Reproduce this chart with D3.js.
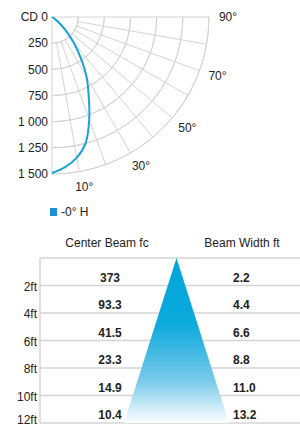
<!DOCTYPE html>
<html lang="en">
<head>
  <meta charset="UTF-8">
  <title>Photometric chart</title>
  <script src="https://d3js.org/d3.v7.min.js"></script>
  <style>
    body {
      margin: 0;
      background: #fff;
      font-family: Arial, "Liberation Sans", sans-serif;
    }
    text {
      fill: #222;
      font-size: 12px;
    }
    .grid {
      fill: none;
      stroke: #d4d4d4;
      stroke-width: 1;
    }
  </style>
</head>
<body>
  <svg width="300" height="427"></svg>

  <script>
    // polar curve (angle in degrees, candela)
    const angles = [0, 5, 10, 15, 20, 25, 30, 35, 40, 45, 50, 55, 60];
    const candela = [1490, 1440, 1365, 1245, 1040, 830, 660, 480, 330, 200, 100, 35, 0];

    const cdTicks = [0, 250, 500, 750, 1000, 1250, 1500];
    const cdLabels = ["CD 0", "250", "500", "750", "1 000", "1 250", "1 500"];
    const angleTicks = [10, 30, 50, 70, 90];
    const series = "-0° H";

    // beam table
    const distances = [2, 4, 6, 8, 10, 12];
    const centerBeam = ["373", "93.3", "41.5", "23.3", "14.9", "10.4"];
    const beamWidth = ["2.2", "4.4", "6.6", "8.8", "11.0", "13.2"];

    const svg = d3.select("svg");

    // ---- polar part ----
    const cx = 52, cy = 17;
    const r = d3.scaleLinear().domain([0, 1500]).range([0, 157]);
    const rad = d => d * Math.PI / 180;
    const px = (a, v) => cx + r(v) * Math.sin(rad(a));
    const py = (a, v) => cy + r(v) * Math.cos(rad(a));

    const polar = svg.append("g");

    // arcs
    cdTicks.slice(1).forEach(v => {
      polar.append("path")
        .attr("class", "grid")
        .attr("d", d3.arc()({
          innerRadius: r(v), outerRadius: r(v),
          startAngle: Math.PI / 2, endAngle: Math.PI
        }))
        .attr("transform", `translate(${cx},${cy})`);
    });

    // spokes
    d3.range(10, 90, 10).forEach(a => {
      polar.append("line")
        .attr("class", "grid")
        .attr("x1", px(a, 250)).attr("y1", py(a, 250))
        .attr("x2", px(a, 1500)).attr("y2", py(a, 1500));
    });
    polar.append("line").attr("class", "grid")
      .attr("x1", cx).attr("y1", cy).attr("x2", px(0, 1500)).attr("y2", py(0, 1500));
    polar.append("line").attr("class", "grid")
      .attr("x1", cx).attr("y1", cy).attr("x2", px(90, 1500)).attr("y2", py(90, 1500));

    // candela labels
    polar.selectAll(".cd")
      .data(cdTicks)
      .enter().append("text")
      .attr("x", cx - 4)
      .attr("y", d => py(0, d))
      .attr("dy", "0.35em")
      .style("text-anchor", "end")
      .text((d, i) => cdLabels[i]);

    // angle labels
    polar.selectAll(".ang")
      .data(angleTicks)
      .enter().append("text")
      .attr("x", d => cx + 174 * Math.sin(rad(d)) + 2)
      .attr("y", d => cy + 172 * Math.cos(rad(d)))
      .attr("dy", "0.35em")
      .style("text-anchor", "middle")
      .text(d => d + "°");

    // curve
    const pts = angles.map((a, i) => [px(a, candela[i]), py(a, candela[i])]);
    polar.append("path")
      .datum(pts)
      .attr("fill", "none")
      .attr("stroke", "#1aa3d9")
      .attr("stroke-width", 2)
      .attr("d", d3.line().curve(d3.curveCatmullRom.alpha(0.5)));

    // legend
    svg.append("rect")
      .attr("x", 50).attr("y", 208)
      .attr("width", 7).attr("height", 8)
      .attr("fill", "#1a8fd6");
    svg.append("text")
      .attr("x", 61).attr("y", 216)
      .text(series);

    // ---- beam table ----
    const y = d3.scaleLinear().domain([0, 12]).range([258, 423]);
    const x = d3.scaleLinear().domain([-6.6, 6.6]).range([124, 229]);

    const defs = svg.append("defs");
    const grad = defs.append("linearGradient")
      .attr("id", "beam")
      .attr("x1", 0).attr("y1", 0).attr("x2", 0).attr("y2", 1);
    grad.append("stop").attr("offset", "0%").attr("stop-color", "#00a5db");
    grad.append("stop").attr("offset", "40%").attr("stop-color", "#0ca9dc");
    grad.append("stop").attr("offset", "75%").attr("stop-color", "#7ccbea");
    grad.append("stop").attr("offset", "100%").attr("stop-color", "#ffffff");

    const table = svg.append("g");

    [0].concat(distances).forEach(d => {
      table.append("line")
        .attr("x1", 40).attr("x2", 300)
        .attr("y1", y(d)).attr("y2", y(d))
        .attr("stroke", "#d4d4d4")
        .attr("stroke-width", 1.5);
    });
    table.append("line")
      .attr("x1", 40).attr("x2", 40)
      .attr("y1", y(0)).attr("y2", y(12))
      .attr("stroke", "#d4d4d4")
      .attr("stroke-width", 1.5);

    const last = beamWidth.length - 1;
    const half = +beamWidth[last] / 2;
    table.append("path")
      .attr("d", `M${x(0)},${y(0)}L${x(half)},${y(12)}L${x(-half)},${y(12)}Z`)
      .attr("fill", "url(#beam)");

    table.append("text")
      .attr("x", 107).attr("y", 247)
      .style("text-anchor", "middle")
      .text("Center Beam fc");
    table.append("text")
      .attr("x", 242).attr("y", 247)
      .style("text-anchor", "middle")
      .text("Beam Width ft");

    table.selectAll(".dist")
      .data(distances)
      .enter().append("text")
      .attr("x", 37)
      .attr("y", d => Math.min(y(d) + 5, 424))
      .style("text-anchor", "end")
      .text(d => d + "ft");

    table.selectAll(".fc")
      .data(centerBeam)
      .enter().append("text")
      .attr("x", 110)
      .attr("y", (d, i) => y(distances[i]) - 4)
      .style("text-anchor", "middle")
      .style("font-weight", "bold")
      .text(d => d);

    table.selectAll(".bw")
      .data(beamWidth)
      .enter().append("text")
      .attr("x", 233)
      .attr("y", (d, i) => y(distances[i]) - 4)
      .style("font-weight", "bold")
      .text(d => d);
  </script>
</body>
</html>
